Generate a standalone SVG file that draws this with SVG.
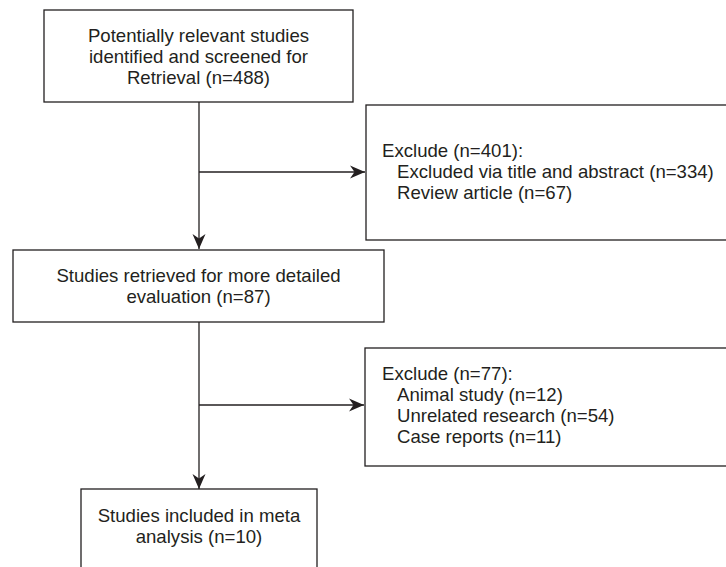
<svg xmlns="http://www.w3.org/2000/svg" width="726" height="567" viewBox="0 0 726 567">
<style>
.box{fill:#fff;stroke:#231f20;stroke-width:1.3}
.t{font-family:"Liberation Sans",Arial,sans-serif;font-size:18.6px;fill:#231f20}
.c{text-anchor:middle}
.ln{fill:none;stroke:#231f20;stroke-width:1.3}
</style>
<defs>
<marker id="ah" markerUnits="userSpaceOnUse" markerWidth="20" markerHeight="16" viewBox="-16 -8 20 16" refX="0" refY="0" orient="auto">
<path d="M0,0 L-15,-6.5 L-10.5,0 L-15,6.5 Z" fill="#231f20"/>
</marker>
</defs>
<rect width="726" height="567" fill="#fff"/>
<g id="connectors">
<line class="ln" x1="199" y1="102" x2="199" y2="249" marker-end="url(#ah)"/>
<line class="ln" x1="199" y1="172" x2="365" y2="172" marker-end="url(#ah)"/>
<line class="ln" x1="199" y1="322" x2="199" y2="489" marker-end="url(#ah)"/>
<line class="ln" x1="199" y1="405" x2="364" y2="405" marker-end="url(#ah)"/>
</g>
<g id="n1">
<rect class="box" x="44" y="10" width="309" height="92"/>
<text class="t c" x="198.5" y="42">Potentially relevant studies</text>
<text class="t c" x="198.5" y="63">identified and screened for</text>
<text class="t c" x="198.5" y="84">Retrieval (n=488)</text>
</g>
<g id="n2">
<rect class="box" x="366" y="105" width="370" height="135"/>
<text class="t" x="382" y="157">Exclude (n=401):</text>
<text class="t" x="397" y="178">Excluded via title and abstract (n=334)</text>
<text class="t" x="397" y="199">Review article (n=67)</text>
</g>
<g id="n3">
<rect class="box" x="13" y="250" width="371" height="72"/>
<text class="t c" x="198.5" y="282">Studies retrieved for more detailed</text>
<text class="t c" x="198.5" y="303">evaluation (n=87)</text>
</g>
<g id="n4">
<rect class="box" x="365" y="348" width="370" height="118"/>
<text class="t" x="382" y="380">Exclude (n=77):</text>
<text class="t" x="397" y="401">Animal study (n=12)</text>
<text class="t" x="397" y="422">Unrelated research (n=54)</text>
<text class="t" x="397" y="443">Case reports (n=11)</text>
</g>
<g id="n5">
<rect class="box" x="81" y="489" width="236" height="90"/>
<text class="t c" x="199" y="522">Studies included in meta</text>
<text class="t c" x="199" y="543">analysis (n=10)</text>
</g>
</svg>
